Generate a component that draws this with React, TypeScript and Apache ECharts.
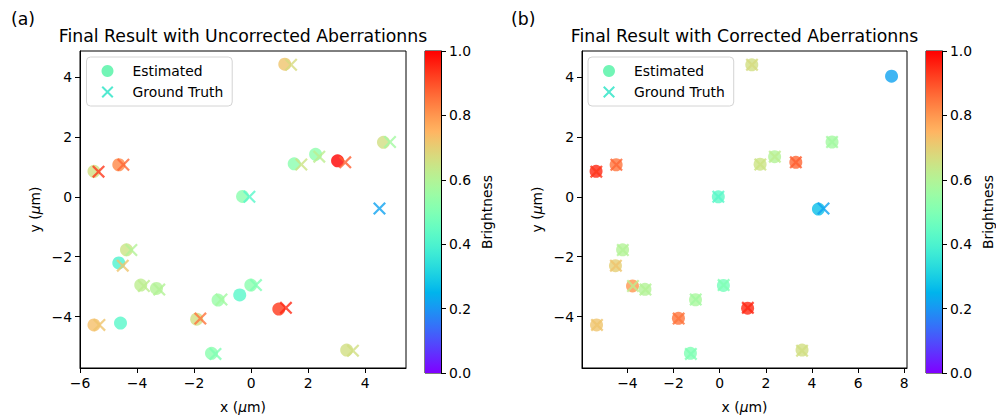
import React, { useEffect, useRef } from "react";
import * as echarts from "echarts";

// Ground-truth emitter positions (µm) and brightness
const gtX = [-5.35, -4.48, -0.06, 1.4, 1.76, 2.39, 3.3, 4.87, 4.5, -4.2, -4.5, -3.76, -3.22, -1.04, 0.17, 1.22, -1.78, -5.32, -1.25, 3.57];
const gtY = [0.84, 1.07, 0.0, 4.41, 1.08, 1.34, 1.15, 1.83, -0.39, -1.78, -2.3, -2.98, -3.1, -3.43, -2.95, -3.71, -4.07, -4.28, -5.25, -5.14];
const gtB = [0.93, 0.87, 0.42, 0.67, 0.65, 0.62, 0.88, 0.57, 0.22, 0.6, 0.72, 0.62, 0.6, 0.57, 0.5, 0.95, 0.85, 0.72, 0.5, 0.66];

// Estimates without aberration correction
const uncX = [-5.51, -4.64, -0.3, 1.18, 1.51, 2.26, 3.03, 4.64, -4.37, -4.64, -3.87, -3.32, -1.16, -0.4, -0.01, 0.97, -1.91, -5.51, -4.58, -1.39, 3.35];
const uncY = [0.85, 1.07, 0.01, 4.43, 1.1, 1.42, 1.2, 1.82, -1.77, -2.21, -2.95, -3.06, -3.45, -3.28, -2.95, -3.75, -4.09, -4.28, -4.22, -5.23, -5.12];
const uncB = [0.66, 0.82, 0.52, 0.72, 0.52, 0.53, 1.0, 0.66, 0.65, 0.4, 0.62, 0.6, 0.55, 0.42, 0.52, 0.93, 0.66, 0.73, 0.42, 0.52, 0.66];

// Estimates with aberration correction
const corX = [-5.36, -4.49, -0.06, 1.39, 1.75, 2.38, 3.3, 4.87, 4.28, 7.45, -4.21, -4.52, -3.78, -3.24, -1.05, 0.16, 1.21, -1.79, -5.34, -1.27, 3.57];
const corY = [0.85, 1.07, 0.0, 4.41, 1.09, 1.34, 1.15, 1.83, -0.41, 4.03, -1.77, -2.3, -2.98, -3.09, -3.44, -2.96, -3.72, -4.06, -4.28, -5.23, -5.12];
const corB = [0.95, 0.85, 0.43, 0.66, 0.65, 0.6, 0.87, 0.57, 0.27, 0.22, 0.6, 0.7, 0.8, 0.6, 0.58, 0.48, 0.95, 0.85, 0.72, 0.5, 0.66];

// Axis ticks
const leftXTicks = [-6, -4, -2, 0, 2, 4];
const rightXTicks = [-4, -2, 0, 2, 4, 6, 8];
const yTicks = [-4, -2, 0, 2, 4];
const colorbarTicks = [0, 0.2, 0.4, 0.6, 0.8, 1.0];
const colorbarRange = [0, 1];

const FONT = "DejaVu Sans";
const TICK_SIZE = 13.9;
const TITLE_SIZE = 17.3;
const X_MARK = "path://M0,12L12,0L50,38L88,0L100,12L62,50L100,88L88,100L50,62L12,100L0,88L38,50Z";

// matplotlib "rainbow" colormap
function rainbow(t: number): string {
  const c = (v: number) => Math.round(Math.min(1, Math.max(0, v)) * 255);
  const r = Math.abs(2 * t - 0.5);
  const g = Math.sin(Math.PI * t);
  const b = Math.cos((Math.PI * t) / 2);
  return `rgb(${c(r)},${c(g)},${c(b)})`;
}
const rainbowSamples = (n: number) => Array.from({ length: n }, (_, i) => rainbow(i / (n - 1)));

const minus = (s: string) => s.replace("-", "\u2212");

function valueAxis(gridIndex: number, min: number, max: number, ticks: number[], name: string, gap: number) {
  return {
    gridIndex,
    type: "value",
    min,
    max,
    name,
    nameLocation: "middle",
    nameGap: gap,
    nameTextStyle: {
      fontFamily: FONT,
      fontSize: TICK_SIZE,
      color: "#000",
      rich: { i: { fontFamily: FONT, fontSize: TICK_SIZE, fontStyle: "italic", color: "#000" } },
    },
    axisLine: { show: true, onZero: false, lineStyle: { color: "#000", width: 1 } },
    axisTick: { show: true, inside: false, length: 5, lineStyle: { color: "#000", width: 1 }, customValues: ticks },
    axisLabel: {
      show: true,
      margin: 8,
      fontFamily: FONT,
      fontSize: TICK_SIZE,
      color: "#000",
      customValues: ticks,
      formatter: (v: number) => minus(String(v)),
    },
    splitLine: { show: false },
  };
}

function colorbarAxis(gridIndex: number) {
  return {
    gridIndex,
    type: "value",
    min: colorbarRange[0],
    max: colorbarRange[1],
    position: "right",
    name: "Brightness",
    nameLocation: "middle",
    nameRotate: 90,
    nameGap: 39,
    nameTextStyle: { fontFamily: FONT, fontSize: TICK_SIZE, color: "#000" },
    axisLine: { show: true, onZero: false, lineStyle: { color: "#000", width: 1 } },
    axisTick: { show: true, inside: false, length: 5, lineStyle: { color: "#000" }, customValues: colorbarTicks },
    axisLabel: {
      margin: 8,
      fontFamily: FONT,
      fontSize: TICK_SIZE,
      color: "#000",
      customValues: colorbarTicks,
      formatter: (v: number) => v.toFixed(1),
    },
    splitLine: { show: false },
  };
}

function legendFor(left: number, seriesNames: string[]) {
  return {
    left,
    top: 57,
    orient: "vertical",
    selectedMode: false,
    itemWidth: 40,
    itemHeight: 12,
    itemGap: 5,
    padding: [6, 9, 6, 15],
    borderColor: "#d4d4d4",
    borderWidth: 1,
    borderRadius: 4,
    backgroundColor: "rgba(255,255,255,0.8)",
    textStyle: { fontFamily: FONT, fontSize: TICK_SIZE, color: "#000", lineHeight: 16 },
    data: [
      { name: seriesNames[0], icon: "circle", itemStyle: { color: "#72f5b6", opacity: 1 } },
      { name: seriesNames[1], icon: X_MARK, itemStyle: { color: "#52e9d0", opacity: 1 } },
    ],
  };
}

const pts = (xs: number[], ys: number[], bs: number[]) => xs.map((x, i) => [x, ys[i], bs[i]]);

function scatter(name: string, idx: number, data: number[][], symbol: string) {
  return {
    type: "scatter",
    name,
    xAxisIndex: idx,
    yAxisIndex: idx,
    data,
    symbol,
    symbolSize: 13,
    itemStyle: { opacity: 0.8 },
    emphasis: { disabled: true },
  };
}

function colorbarSeries(idx: number) {
  const stops = Array.from({ length: 41 }, (_, i) => ({ offset: i / 40, color: rainbow(i / 40) }));
  return {
    type: "bar",
    xAxisIndex: idx,
    yAxisIndex: idx,
    data: [colorbarRange[1]],
    barWidth: "100%",
    silent: true,
    itemStyle: { color: new echarts.graphic.LinearGradient(0, 1, 0, 0, stops) },
  };
}

export default function App() {
  const ref = useRef<HTMLDivElement>(null);

  useEffect(() => {
    if (!ref.current) return;
    const chart = echarts.init(ref.current, undefined, { renderer: "svg" });
    const gridBox = { show: true, borderColor: "#000", borderWidth: 1, backgroundColor: "transparent", containLabel: false };
    const titleStyle = (text: string, x: number) => ({
      type: "text",
      x,
      y: 36,
      style: { text, fontFamily: FONT, fontSize: TITLE_SIZE, fill: "#000", textAlign: "center", textVerticalAlign: "middle" },
    });
    const panelStyle = (text: string, x: number) => ({
      type: "text",
      x,
      y: 19,
      style: { text, fontFamily: FONT, fontSize: TITLE_SIZE, fill: "#000", textAlign: "left", textVerticalAlign: "middle" },
    });

    chart.setOption({
      animation: false,
      textStyle: { fontFamily: FONT, color: "#000" },
      grid: [
        { ...gridBox, left: 80, top: 51, width: 326, height: 322 },
        { ...gridBox, left: 582, top: 51, width: 325, height: 322 },
        { ...gridBox, left: 425, top: 51, width: 16, height: 322 },
        { ...gridBox, left: 926, top: 51, width: 16, height: 322 },
      ],
      xAxis: [
        valueAxis(0, -6.0, 5.43, leftXTicks, "x ({i|\u03bc}m)", 32),
        valueAxis(1, -5.97, 8.12, rightXTicks, "x ({i|\u03bc}m)", 32),
        { gridIndex: 2, type: "category", data: ["cb"], show: false },
        { gridIndex: 3, type: "category", data: ["cb"], show: false },
      ],
      yAxis: [
        valueAxis(0, -5.72, 4.87, yTicks, "y ({i|\u03bc}m)", 38),
        valueAxis(1, -5.72, 4.87, yTicks, "y ({i|\u03bc}m)", 38),
        colorbarAxis(2),
        colorbarAxis(3),
      ],
      visualMap: {
        type: "continuous",
        show: false,
        min: 0,
        max: 1,
        dimension: 2,
        seriesIndex: [0, 1, 2, 3],
        inRange: { color: rainbowSamples(41) },
      },
      legend: [legendFor(86.5, ["Estimated", "Ground Truth"]), legendFor(588, ["Estimated", "Ground Truth"])],
      series: [
        scatter("Estimated", 0, pts(uncX, uncY, uncB), "circle"),
        scatter("Ground Truth", 0, pts(gtX, gtY, gtB), X_MARK),
        scatter("Estimated", 1, pts(corX, corY, corB), "circle"),
        scatter("Ground Truth", 1, pts(gtX, gtY, gtB), X_MARK),
        colorbarSeries(2),
        colorbarSeries(3),
      ],
      graphic: [
        titleStyle("Final Result with Uncorrected Aberrationns", 243),
        titleStyle("Final Result with Corrected Aberrationns", 744.5),
        panelStyle("(a)", 11),
        panelStyle("(b)", 511),
      ],
    });
    return () => chart.dispose();
  }, []);

  return <div ref={ref} style={{ position: "absolute", left: 0, top: 0, width: 996, height: 419 }} />;
}
